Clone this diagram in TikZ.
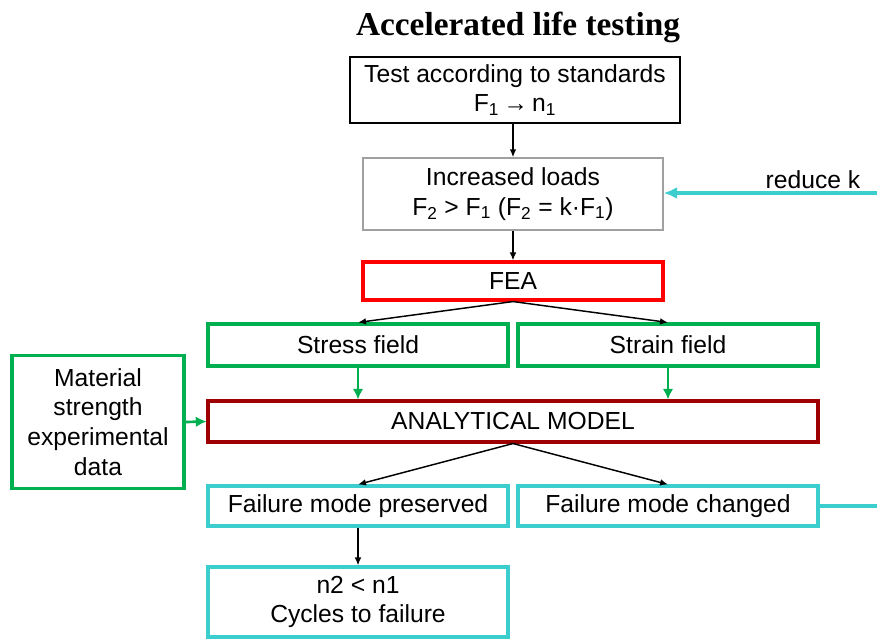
\documentclass[tikz,border=0pt]{standalone}
\usepackage{fontspec}
\setmainfont{Liberation Sans}
\newfontfamily\titlefont{Liberation Serif}
\usetikzlibrary{arrows.meta}
\usetikzlibrary{positioning}
\definecolor{fieldgreen}{RGB}{0,176,80}
\definecolor{feared}{RGB}{255,0,0}
\definecolor{modelred}{RGB}{158,0,0}
\definecolor{loopcyan}{RGB}{60,206,206}
\definecolor{boxgray}{RGB}{160,160,160}
\def\px{0.75pt}

\begin{document}
\begin{tikzpicture}[x=0.75pt, y=-0.75pt, % 1 Einheit = 1 Bildpunkt
  every node/.style={font=\fontsize{18.5}{22}\selectfont, align=center, inner sep=0pt},
  blackbox/.style={draw=black, line width=1.1pt},
  graybox/.style={draw=boxgray, line width=1.1pt},
  feabox/.style={draw=feared, line width=2.3pt},
  greenbox/.style={draw=fieldgreen, line width=2.3pt},
  modelbox/.style={draw=modelred, line width=2.3pt},
  cyanbox/.style={draw=loopcyan, line width=2.3pt},
  flow/.style={-{Latex[length=6pt,width=5pt]}, line width=1.1pt},
  greenflow/.style={-{Latex[length=8pt,width=8pt]}, draw=fieldgreen, line width=2pt},
  cyanflow/.style={-{Latex[length=10pt,width=9pt]}, draw=loopcyan, line width=2.3pt}]
\useasboundingbox (0,0) rectangle (877,639);
% Titel
\node[font=\titlefont\bfseries\fontsize{25}{30}\selectfont, anchor=base] (title) at (518,36) {Accelerated life testing};
% Kasten oben
\node[blackbox, minimum width=330*\px, minimum height=66*\px] (test) at (515,90) {Test according to standards\\F\textsubscript{1}\,→\,n\textsubscript{1}};
\node[graybox, minimum width=300*\px, minimum height=72*\px] (loads) at (513,194) {Increased loads\\F\textsubscript{2} > F\textsubscript{1} (F\textsubscript{2} = k·F\textsubscript{1})};
\node[feabox, minimum width=300*\px, minimum height=38*\px] (fea) at (513,281) {FEA};
% Spannungen und Dehnungen
\node[greenbox, minimum width=300*\px, minimum height=42*\px] (stress) at (358,345) {Stress field};
\node[greenbox, minimum width=300*\px, minimum height=42*\px] (strain) at (668,345) {Strain field};
\node[modelbox, minimum width=610*\px, minimum height=41*\px] (model) at (513,421.5) {ANALYTICAL MODEL};
\node[greenbox, minimum width=172*\px, minimum height=133*\px, text width=170*\px, font=\fontsize{18.5}{22.3}\selectfont] (material) at (98,422) {Material\\strength\\experimental\\data};
% Versagensart
\node[cyanbox, minimum width=300*\px, minimum height=40*\px] (kept) at (358,506) {Failure mode preserved};
\node[cyanbox, minimum width=300*\px, minimum height=40*\px] (changed) at (668,506) {Failure mode changed};
\node[cyanbox, minimum width=300*\px, minimum height=70*\px] (cycles) at (358,602) {n2 < n1\\Cycles to failure};
% Rueckfuehrung
\node (reduce) at (813,180) {reduce k};
\coordinate (edgetop) at (877,193);
\coordinate (edgebottom) at (877,506);
% Pfeile
\draw[flow] (loads.north |- test.south) -- (loads.north);
\draw[flow] (loads.south) -- (fea.north);
\draw[flow] (fea.south) -- (stress.north);
\draw[flow] (fea.south) -- (strain.north);
\draw[greenflow] (stress.south) -- (stress.south |- model.north);
\draw[greenflow] (strain.south) -- (strain.south |- model.north);
\draw[greenflow] (material.east) -- (model.west);
\draw[flow] (model.south) -- (kept.north);
\draw[flow] (model.south) -- (changed.north);
\draw[flow] (kept.south) -- (cycles.north);
\draw[cyanflow] (edgetop) -- (edgetop -| loads.east);
\draw[loopcyan, line width=2.3pt] (changed.east) -- (edgebottom);
\end{tikzpicture}
\end{document}
